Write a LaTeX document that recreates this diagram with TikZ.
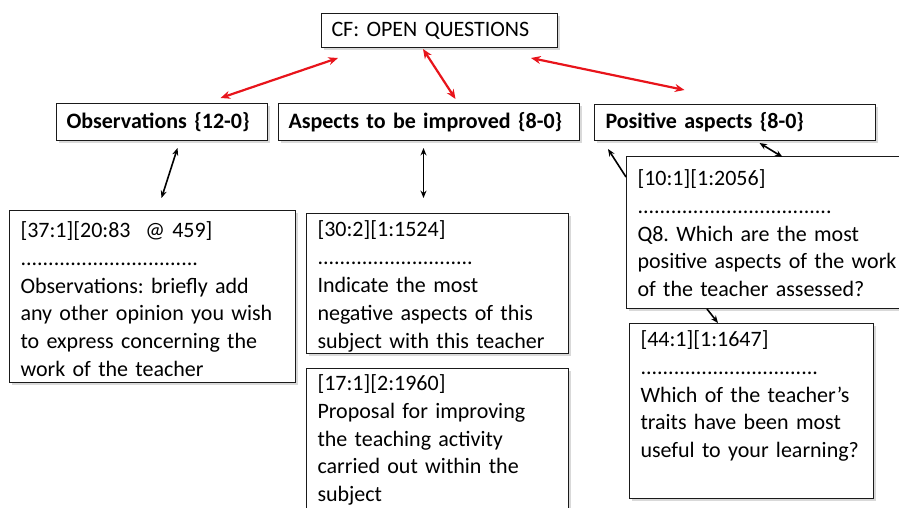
\documentclass[tikz,border=0pt]{standalone}
\usepackage{fontspec}
\setmainfont{Carlito}
\usepackage{xcolor}
\usepackage{tikz}
\usetikzlibrary{calc,arrows.meta,shadows}
\definecolor{linec}{HTML}{1A1A1A}
\definecolor{redc}{HTML}{E8141B}
\newcommand{\bodyfont}{\fontsize{22}{27.8}\selectfont\frenchspacing}
\newcommand{\qbody}[3][0pt]{\parbox[c][#2][t]{\hsize}{\vspace*{#1}#3}}
\tikzset{
  ar/.style={{Stealth[length=2.6mm,width=2.1mm]}-{Stealth[length=2.6mm,width=2.1mm]},line width=1.6pt,black},
  arone/.style={-{Stealth[length=2.6mm,width=2.1mm]},line width=1.6pt,black},
  rar/.style={{Stealth[length=3.4mm,width=2.8mm]}-{Stealth[length=3.4mm,width=2.8mm]},line width=2.2pt,redc},
  box/.style={draw=linec,line width=1pt,fill=white,anchor=north west,align=left,
    inner xsep=10pt,inner ysep=6pt,font=\bodyfont,
    drop shadow={shadow xshift=2.5pt,shadow yshift=-2.5pt,opacity=0.3}},
  head/.style={box,font=\bodyfont\bfseries},
  qbox/.style={box,inner xsep=11pt}
}

\begin{document}
\begin{tikzpicture}[x=1pt,y=-1pt]
\useasboundingbox (0,0) rectangle (899,507);
\clip (0,0) rectangle (899,507);
% top and category boxes
\node[box,text width=216pt,minimum height=34pt] (cf) at (321,13) {CF: OPEN QUESTIONS};
\node[head,text width=191pt,minimum height=37pt] (obs) at (56,103) {Observations \{12-0\}};
\node[head,text width=281pt,minimum height=37pt] (asp) at (278,103) {Aspects to be improved \{8-0\}};
\node[head,text width=259pt,minimum height=36pt,inner xsep=11pt] (pos) at (594,104) {Positive aspects \{8-0\}};
% question boxes
\node[qbox,text width=264pt] (obsq) at (9,210) {\qbody[5pt]{160pt}{[37:1][20:83~ @ 459]\\
................................\\
Observations: briefly add\\
any other opinion you wish\\
to express concerning the\\
work of the teacher}};
\node[qbox,text width=240pt] (aspq1) at (306,213) {\qbody[1.5pt]{128pt}{[30:2][1:1524]\\
............................\\
Indicate the most\\
negative aspects of this\\
subject with this teacher}};
\node[qbox,text width=240pt] (aspq2) at (306,368) {\qbody{160pt}{[17:1][2:1960]\\
Proposal for improving\\
the teaching activity\\
carried out within the\\
subject}};
\node[qbox,text width=268pt] (posq1) at (626,156) {\qbody[7pt]{140pt}{[10:1][1:2056]\\
...................................\\
Q8. Which are the most\\
positive aspects of the work\\
of the teacher assessed?}};
\node[qbox,text width=222pt] (posq2) at (629,323) {\qbody[1pt]{163pt}{[44:1][1:1647]\\
................................\\
Which of the teacher’s\\
traits have been most\\
useful to your learning?}};
% red links
\draw[rar] ($(cf.south west)+(17,10)$) -- ($(obs.north)+(58.5,-5)$);
\draw[rar] ($(cf.south west)+(102,1)$) -- ($(asp.north)+(26.5,-4)$);
\draw[rar] ($(cf.south east)+(-27,10)$) -- ($(pos.north)+(-50.5,-14)$);
% black links
\draw[ar] ($(obs.south)+(15.5,7)$) -- ($(obsq.north)+(9,-12)$);
\draw[ar] ($(asp.south)+(-5.5,7)$) -- ($(aspq1.north)+(-14,-15)$);
\draw[arone] ($(posq1.north west)+(0,21)$) -- ($(pos.south west)+(14,8)$);
\draw[ar] ($(pos.south)+(24.5,2)$) -- ($(posq1.north)+(11,1)$);
\draw[arone] ($(posq1.south west)+(81,0)$) -- ($(posq2.north west)+(89,0)$);
\end{tikzpicture}
\end{document}
